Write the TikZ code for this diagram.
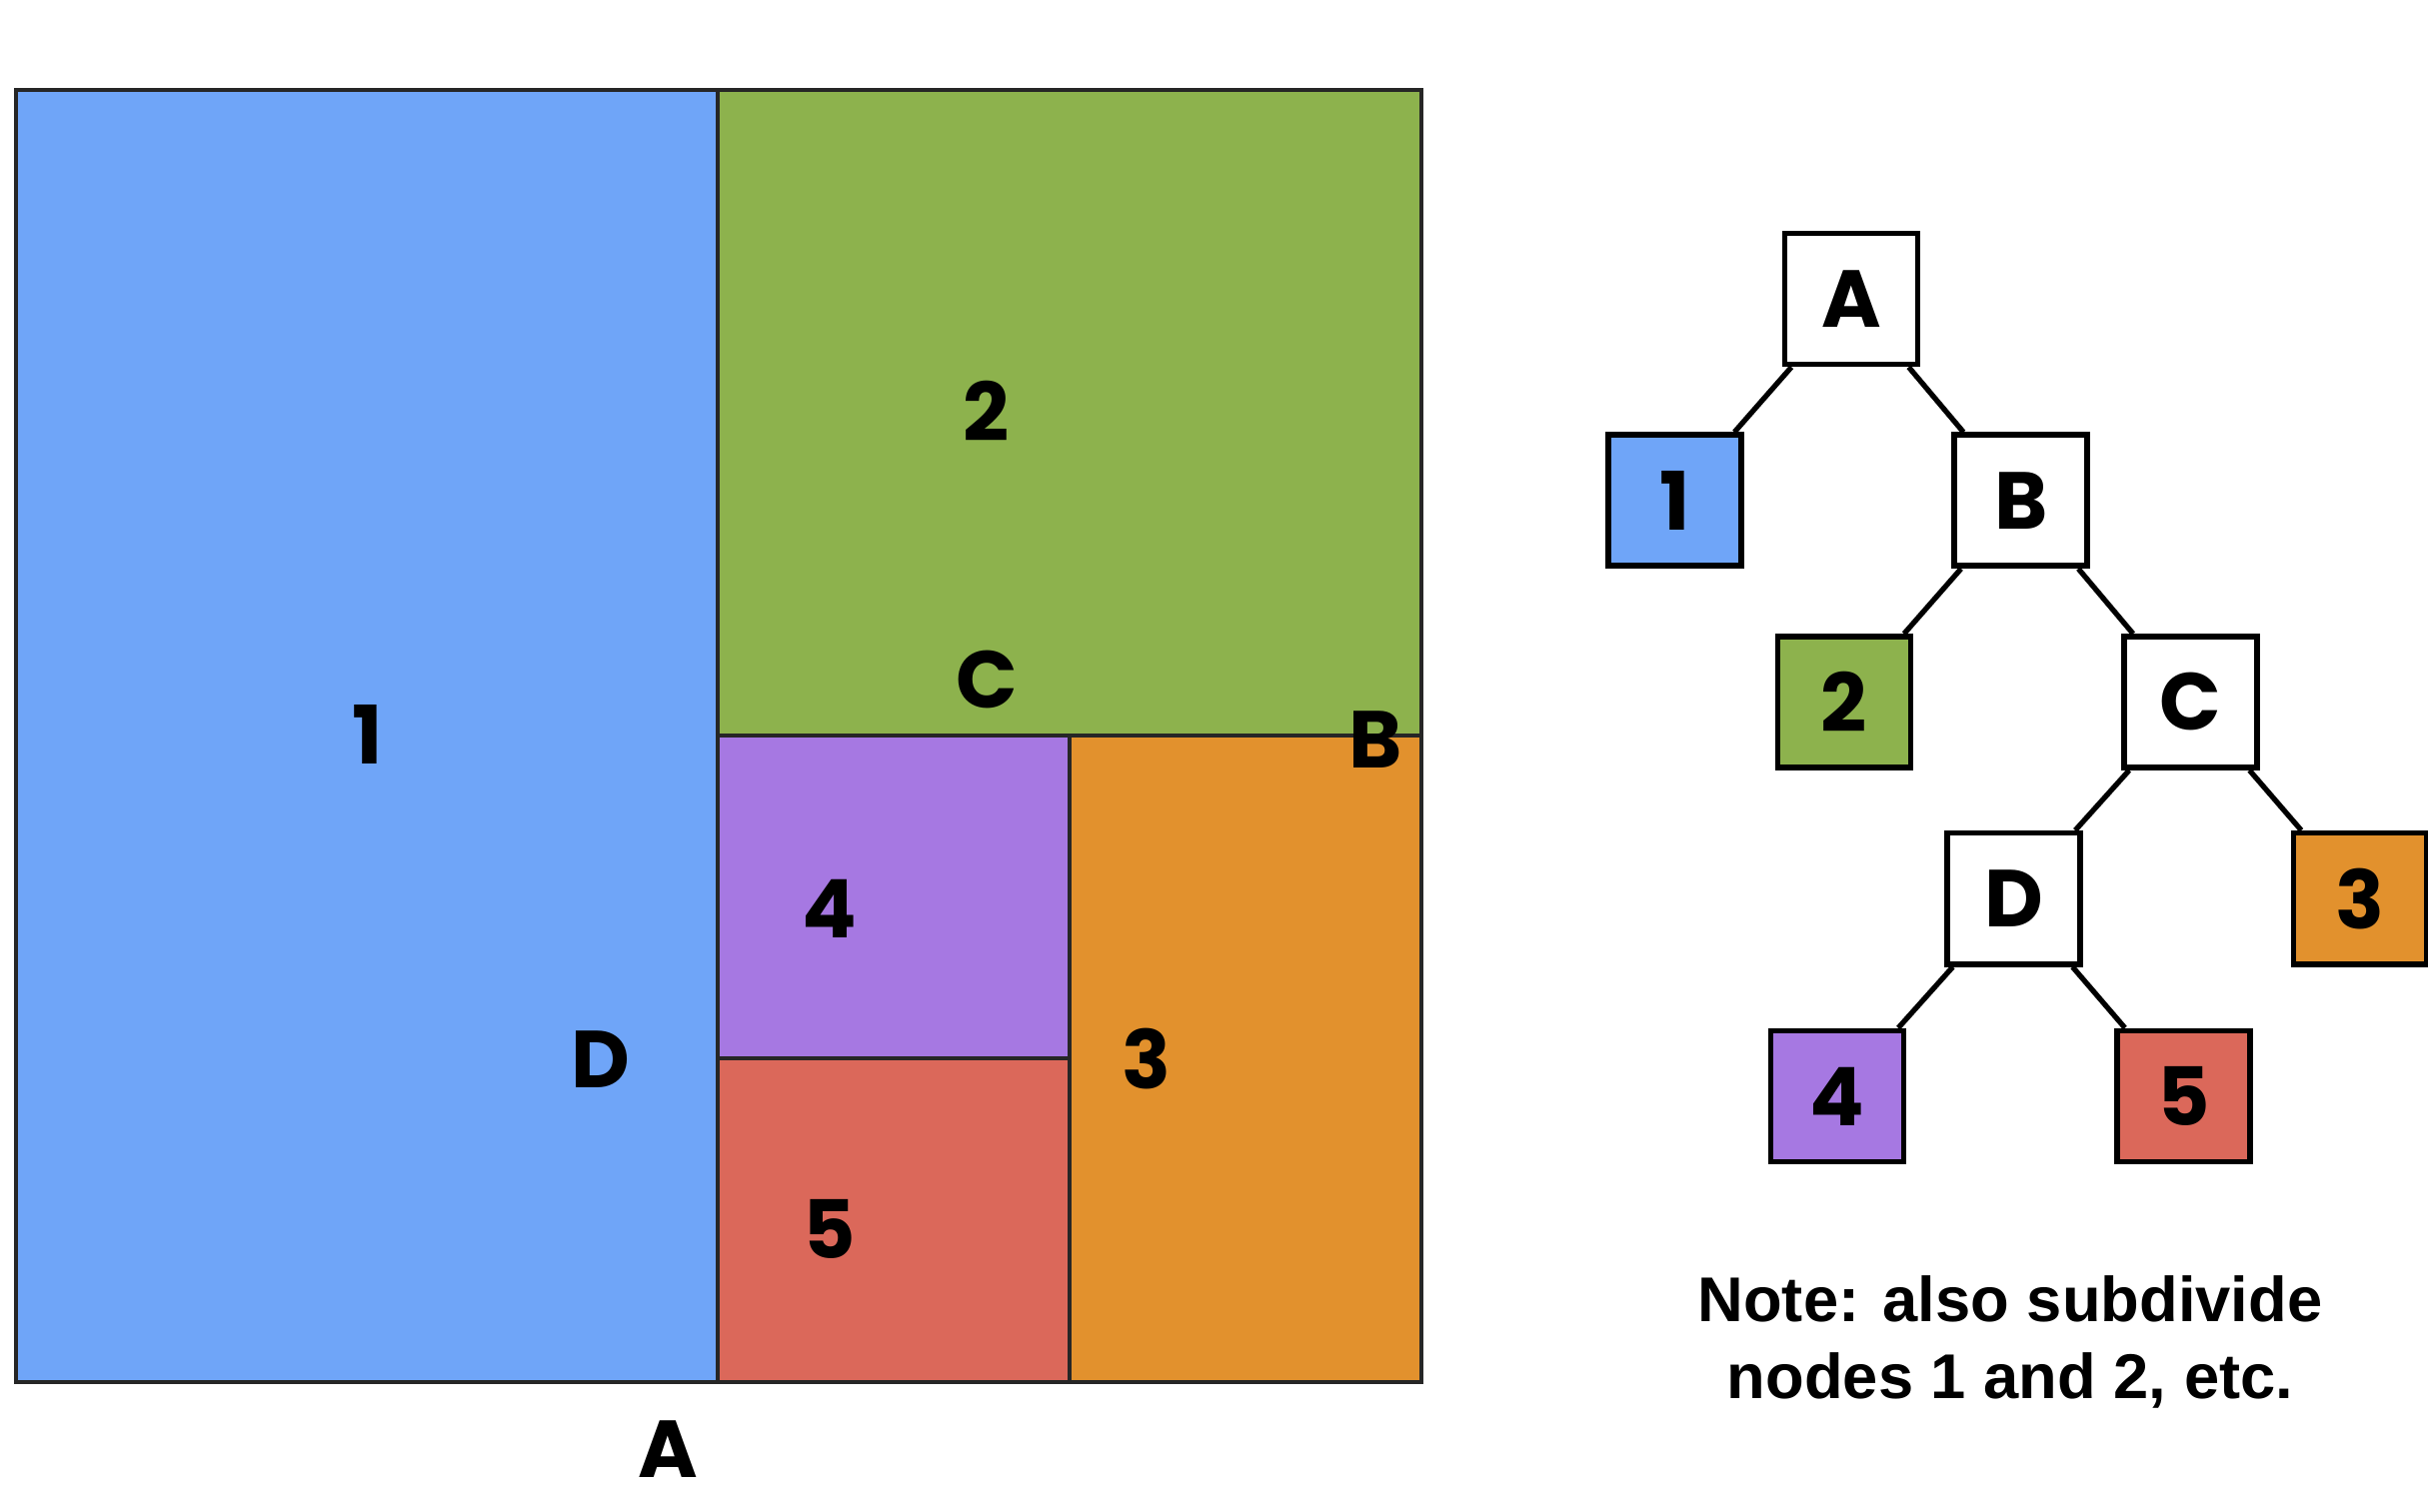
\documentclass[tikz,border=0pt]{standalone}
\usepackage{fontspec}
\setmainfont{Liberation Sans}
\newfontfamily\labelfont{Poppins}
\usetikzlibrary{positioning}
\definecolor{regblue}{RGB}{111,165,248}
\definecolor{reggreen}{RGB}{141,178,77}
\definecolor{regpurple}{RGB}{166,120,226}
\definecolor{regred}{RGB}{219,104,90}
\definecolor{regorange}{RGB}{226,145,45}

\begin{document}
\begin{tikzpicture}[x=0.01cm, y=-0.01cm,
  node distance=0.65cm and 0.34cm,
  region/.style={draw=black!85, line width=0.9pt},
  lbl/.style={font=\labelfont\bfseries\fontsize{23}{28}\selectfont, inner sep=0pt},
  treebox/.style={draw, line width=1.6pt, minimum width=1.33cm,
                  minimum height=1.31cm, inner sep=0pt,
                  font=\labelfont\bfseries\fontsize{23}{28}\selectfont},
  link/.style={line width=1.5pt}
]
  \useasboundingbox (0,0) rectangle (2429,1513);

  % the plane, split into regions
  \draw[region, fill=regblue]   (16,90)    rectangle (718,1383);
  \draw[region, fill=reggreen]  (718,90)   rectangle (1422,736);
  \draw[region, fill=regpurple] (718,736)  rectangle (1070,1059);
  \draw[region, fill=regred]    (718,1059) rectangle (1070,1383);
  \draw[region, fill=regorange] (1070,736) rectangle (1422,1383);

  \node[lbl] (r1) at (368,735)  {1};
  \node[lbl] (r2) at (987,411)  {2};
  \node[lbl] (r3) at (1147,1060) {3};
  \node[lbl] (r4) at (830,909)  {4};
  \node[lbl] (r5) at (830,1230) {5};
  \node[lbl] (sa) at (668,1450) {A};
  \node[lbl] (sb) at (1376,740) {B};
  \node[lbl] (sc) at (987,680)  {C};
  \node[lbl] (sd) at (601,1060) {D};

  % the tree
  \node[treebox] (A) at (1852,299) {A};
  \node[treebox, fill=regblue, below left=0.65cm and 0.38cm of A] (n1) {1};
  \node[treebox, below right=0.65cm and 0.31cm of A] (B) {B};
  \node[treebox, fill=reggreen, below left=0.65cm and 0.38cm of B] (n2) {2};
  \node[treebox, below right=0.65cm and 0.31cm of B] (C) {C};
  \node[treebox, below left=0.6cm and 0.38cm of C] (D) {D};
  \node[treebox, fill=regorange, below right=0.6cm and 0.31cm of C] (n3) {3};
  \node[treebox, fill=regpurple, below left=0.61cm and 0.38cm of D] (n4) {4};
  \node[treebox, fill=regred, below right=0.61cm and 0.31cm of D] (n5) {5};

  \draw[link] (A) -- (n1);
  \draw[link] (A) -- (B);
  \draw[link] (B) -- (n2);
  \draw[link] (B) -- (C);
  \draw[link] (C) -- (D);
  \draw[link] (C) -- (n3);
  \draw[link] (D) -- (n4);
  \draw[link] (D) -- (n5);

  \node[align=center, font=\bfseries\fontsize{18}{22}\selectfont] (note)
    at (2011,1343) {Note: also subdivide\\nodes 1 and 2, etc.};
\end{tikzpicture}
\end{document}
